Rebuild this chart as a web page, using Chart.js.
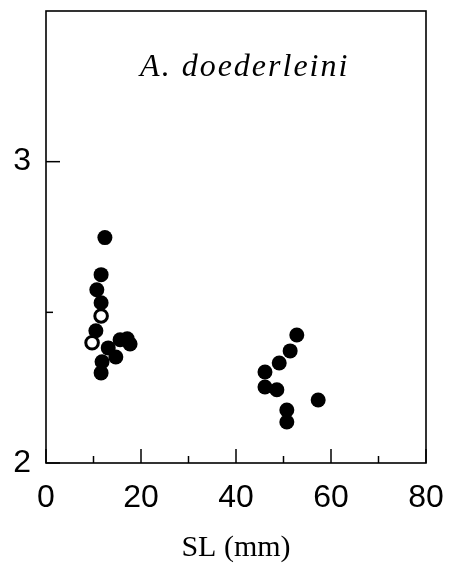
<!DOCTYPE html>
<html>
<head>
<meta charset="utf-8">
<script src="https://cdn.jsdelivr.net/npm/chart.js@4/dist/chart.umd.min.js"></script>
<style>
  html, body { margin: 0; padding: 0; background: #fff; }
  #wrap { width: 460px; height: 568px; }
</style>
</head>
<body>
<div id="wrap"><canvas id="c" width="460" height="568"></canvas></div>
<script>
// A. doederleini: ratio against standard length (SL)
const titleText = 'A. doederleini';
const xAxisTitle = 'SL (mm)';

// solid markers
const filledSL    = [12.4, 11.6, 10.7, 11.6, 10.5, 13.1, 11.8, 11.6, 14.7, 15.6, 17.1, 17.7,
                     52.8, 51.4, 49.1, 46.1, 46.1, 48.6, 57.3, 50.7, 50.7];
const filledRatio = [2.748, 2.625, 2.575, 2.532, 2.439, 2.382, 2.336, 2.299, 2.352, 2.409, 2.412, 2.395,
                     2.425, 2.372, 2.332, 2.302, 2.252, 2.243, 2.209, 2.176, 2.136];
// hollow markers
const openSL    = [11.6, 9.7];
const openRatio = [2.488, 2.399];

// axis ticks
const xTickValues = [0, 10, 20, 30, 40, 50, 60, 70, 80];
const xTickLabels = ['0', '', '20', '', '40', '', '60', '', '80'];
const yTickValues = [2, 2.5, 3];
const yTickLabels = ['2', '', '3'];

const toPoints = (xs, ys) => xs.map((x, i) => ({ x: x, y: ys[i] }));

// frame, inward ticks and the in-plot title
const framePlugin = {
  id: 'frame',
  afterDatasetsDraw(chart) {
    const { ctx, chartArea: a, scales } = chart;
    ctx.save();
    ctx.strokeStyle = '#000';
    ctx.lineWidth = 1.6;
    ctx.strokeRect(a.left, a.top, a.right - a.left, a.bottom - a.top);
    ctx.lineWidth = 1.5;
    xTickValues.forEach((v, i) => {
      const px = scales.x.getPixelForValue(v);
      const len = xTickLabels[i] ? 14 : 7;
      ctx.beginPath(); ctx.moveTo(px, a.bottom); ctx.lineTo(px, a.bottom - len); ctx.stroke();
    });
    yTickValues.forEach((v, i) => {
      const py = scales.y.getPixelForValue(v);
      const len = yTickLabels[i] ? 14 : 7;
      ctx.beginPath(); ctx.moveTo(a.left, py); ctx.lineTo(a.left + len, py); ctx.stroke();
    });
    ctx.fillStyle = '#000';
    ctx.font = 'italic 32px "Liberation Serif", "DejaVu Serif", serif';
    ctx.textAlign = 'center';
    ctx.textBaseline = 'alphabetic';
    if ('letterSpacing' in ctx) ctx.letterSpacing = '2px';
    ctx.fillText(titleText, a.left + (a.right - a.left) * 0.523, a.top + 65);
    ctx.restore();
  }
};

const noPad = s => { s.paddingTop = 0; s.paddingBottom = 0; s.paddingLeft = 0; s.paddingRight = 0; };

new Chart(document.getElementById('c'), {
  type: 'scatter',
  data: {
    datasets: [
      {
        data: toPoints(filledSL, filledRatio),
        pointRadius: 7.5,
        pointHoverRadius: 7.5,
        backgroundColor: '#000',
        borderColor: '#000',
        borderWidth: 0
      },
      {
        data: toPoints(openSL, openRatio),
        pointRadius: 6.3,
        pointHoverRadius: 6.3,
        backgroundColor: '#fff',
        borderColor: '#000',
        borderWidth: 3
      }
    ]
  },
  options: {
    responsive: false,
    animation: false,
    events: [],
    layout: { padding: { top: 11, right: 34, left: 0, bottom: 0 } },
    plugins: { legend: { display: false }, tooltip: { enabled: false } },
    scales: {
      x: {
        type: 'linear',
        min: 0, max: 80,
        afterBuildTicks: s => { s.ticks = xTickValues.map(v => ({ value: v })); },
        afterFit: s => { s.height = 105; noPad(s); },
        grid: { display: false, drawTicks: false },
        border: { display: false },
        ticks: {
          autoSkip: false,
          maxRotation: 0,
          padding: 16,
          color: '#000',
          font: { family: '"Liberation Sans", Arial, sans-serif', size: 32 },
          callback: (v, i) => xTickLabels[i]
        },
        title: {
          display: true,
          text: xAxisTitle,
          color: '#000',
          font: { family: '"Liberation Serif", "DejaVu Serif", serif', size: 30 },
          padding: { top: 4, bottom: 2 }
        }
      },
      y: {
        type: 'linear',
        min: 2, max: 3.5,
        afterBuildTicks: s => { s.ticks = yTickValues.map(v => ({ value: v })); },
        afterFit: s => { s.width = 46; noPad(s); },
        grid: { display: false, drawTicks: false },
        border: { display: false },
        ticks: {
          autoSkip: false,
          padding: 15,
          color: '#000',
          font: { family: '"Liberation Sans", Arial, sans-serif', size: 32 },
          callback: (v, i) => yTickLabels[i]
        }
      }
    }
  },
  plugins: [framePlugin]
});
</script>
</body>
</html>
